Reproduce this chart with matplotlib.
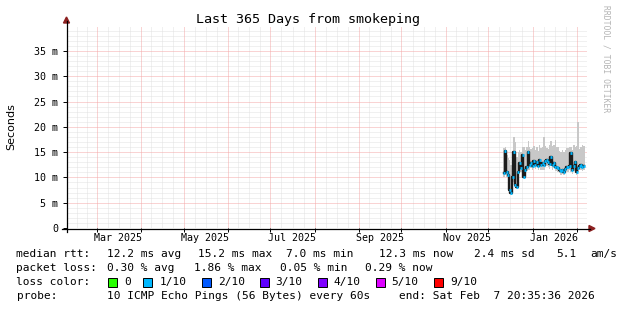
import matplotlib
matplotlib.use("Agg")
import matplotlib.pyplot as plt
from matplotlib.patches import Rectangle, Polygon
from matplotlib.lines import Line2D
from matplotlib.ticker import FuncFormatter
import pandas as pd
from datetime import datetime

# ---------------- data ----------------
title = "Last 365 Days from smokeping"
y_label = "Seconds"
first_day = "2025-12-12"
median_ms = [10.8, 15.2, 11.0, 10.5, 7.5, 7.0, 10.0, 15.0, 8.5, 8.2,
             11.0, 12.8, 11.9, 14.4, 10.1, 11.5, 12.0, 15.0, 12.4, 12.8,
             12.3, 13.3, 12.5, 13.0, 12.2, 13.5, 12.4, 12.8, 12.5, 13.2,
             13.4, 13.1, 12.6, 14.1, 12.4, 12.8, 12.0, 12.1, 11.9, 11.5,
             11.2, 11.4, 11.1, 11.6, 12.1, 12.0, 12.3, 14.9, 11.5, 12.2,
             13.0, 11.1, 11.8, 12.2, 12.4, 12.0, 12.3]
smoke_hi_ms = [15.8, 16.0, 14.5, 13.8, 13.5, 12.5, 14.0, 18.0, 17.0, 14.0,
               15.1, 15.5, 15.0, 16.1, 16.0, 15.5, 16.0, 17.1, 16.0, 15.6,
               15.8, 16.2, 15.5, 16.0, 15.3, 16.5, 15.8, 16.0, 18.0, 16.2,
               15.8, 15.6, 16.5, 17.1, 16.2, 16.5, 17.4, 16.1, 16.0, 15.2,
               15.1, 15.5, 15.0, 15.4, 15.8, 15.8, 16.0, 16.1, 15.5, 16.5,
               16.0, 16.2, 21.0, 15.6, 16.0, 16.4, 16.2]
smoke_lo_ms = [10.0, 10.5, 10.0, 9.5, 7.0, 6.8, 8.0, 9.0, 8.0, 7.8,
               10.2, 11.5, 11.0, 11.5, 9.8, 10.8, 11.2, 11.5, 11.5, 11.8,
               11.5, 12.0, 11.6, 12.0, 11.4, 12.2, 11.5, 11.5, 11.5, 12.0,
               12.2, 12.0, 11.7, 12.2, 11.5, 11.8, 11.2, 11.3, 11.0, 10.8,
               10.5, 10.6, 10.4, 10.8, 11.2, 11.1, 11.4, 11.0, 10.7, 11.3,
               11.5, 10.4, 11.0, 11.4, 11.5, 11.2, 11.5]
y_ticks = [0, 5, 10, 15, 20, 25, 30, 35]
month_labels = ["Mar 2025", "May 2025", "Jul 2025", "Sep 2025", "Nov 2025", "Jan 2026"]
month_label_dates = ["2025-03-16", "2025-05-16", "2025-07-16", "2025-09-16", "2025-11-16", "2026-01-16"]
stats_rtt = ["median rtt:", "12.2 ms avg", "15.2 ms max", "7.0 ms min",
             "12.3 ms now", "2.4 ms sd", "5.1", "am/s"]
stats_loss = ["packet loss:", "0.30 % avg", "1.86 % max", "0.05 % min", "0.29 % now"]
loss_labels = ["0", "1/10", "2/10", "3/10", "4/10", "5/10", "9/10"]
loss_colors = ["#26ff00", "#00b8ff", "#0059ff", "#5e00ff", "#7e00ff", "#dd00ff", "#ff0000"]
probe_items = ["probe:", "10 ICMP Echo Pings (56 Bytes) every 60s",
               "end: Sat Feb  7 20:35:36 2026"]
t_start = datetime(2025, 2, 7, 20, 35, 36)
t_end = datetime(2026, 2, 7, 20, 35, 36)

# ---------------- layout ----------------
W, H = 617, 310
MONO = "DejaVu Sans Mono"
fig = plt.figure(figsize=(W / 100, H / 100), dpi=100)
fig.patch.set_facecolor("white")


def fx(px):
    return px / W


def fy(py):
    return (H - py) / H


ax = fig.add_axes([fx(66.5), fy(228), fx(586.5) - fx(66.5), fy(25.6) - fy(228)])
ax.set_facecolor("white")
ax.set_xlim(t_start, t_end)
ax.set_ylim(0, 40)

days = pd.date_range(first_day, periods=len(median_ms), freq="D")

# grid
mstarts = pd.date_range("2025-02-01", "2026-03-01", freq="MS")
minor_x = []
for a, b in zip(mstarts[:-1], mstarts[1:]):
    for k in (1, 2, 3):
        minor_x.append(a + (b - a) * k / 4)
dot = (0, (1, 1))
for d in minor_x:
    ax.axvline(d, color="#e2e2e2", lw=0.72, ls=dot, zorder=0)
for v in range(0, 41):
    if v % 5:
        ax.axhline(v, color="#e2e2e2", lw=0.72, ls=dot, zorder=0)
for d in mstarts[1:-1]:
    ax.axvline(d, color="#f4a8a8", lw=0.72, ls=dot, zorder=0.5)
for v in y_ticks[1:]:
    ax.axhline(v, color="#f4a8a8", lw=0.72, ls=dot, zorder=0.5)

# smoke
hi = pd.Series(smoke_hi_ms)
lo = pd.Series(smoke_lo_ms)
ax.bar(days, hi - lo, bottom=lo, width=1.0, color="#c8c8c8", linewidth=0, zorder=2)
# median
ax.step(days, median_ms, where="mid", color="#1c1c1c", lw=1.7, zorder=3)
ax.plot(days, median_ms, ls="none", marker="_", ms=1.8, mew=2.0, color="#00b8ff", zorder=4)

# ticks
ax.set_yticks(y_ticks)
ax.yaxis.set_major_formatter(FuncFormatter(lambda v, p: "0" if v == 0 else f"{int(v)} m"))
ax.tick_params(axis="y", length=3, width=0.7, pad=3, labelsize=7.2, colors="black")
ax.set_xticks(list(mstarts[1:-1]))
ax.set_xticklabels([])
ax.tick_params(axis="x", length=3, width=0.7)
for lab in ax.get_yticklabels():
    lab.set_family(MONO)
for s in ax.spines.values():
    s.set_visible(False)
for lab, d in zip(month_labels, month_label_dates):
    ax.text(pd.Timestamp(d), -0.05, lab, transform=ax.get_xaxis_transform(),
            ha="center", va="center", fontsize=7.2, family=MONO, color="black")

# axis lines with arrows
fig.add_artist(Line2D([fx(66.5), fx(66.5)], [fy(232), fy(21)], color="black", lw=0.9))
fig.add_artist(Line2D([fx(62), fx(590)], [fy(228.5), fy(228.5)], color="black", lw=0.9))
fig.add_artist(Polygon([(fx(63.5), fy(23)), (fx(69.5), fy(23)), (fx(66.5), fy(17))],
                       closed=True, color="#8c2020", transform=fig.transFigure))
fig.add_artist(Polygon([(fx(589), fy(225.5)), (fx(589), fy(231.5)), (fx(595), fy(228.5))],
                       closed=True, color="#8c2020", transform=fig.transFigure))

# texts
fig.text(fx(308), fy(19), title, ha="center", va="center", fontsize=9.6, family=MONO)
fig.text(fx(11), fy(127), y_label, rotation=90, ha="center", va="center", fontsize=8)
fig.text(fx(606), fy(59), "RRDTOOL / TOBI OETIKER", rotation=-90, ha="center", va="center",
         fontsize=5.8, family=MONO, color="#b4b4b4")

LEG = 8.0
rtt_x = [16.5, 107, 198, 286, 379, 474, 556, 590]
for s, x in zip(stats_rtt, rtt_x):
    fig.text(fx(x), fy(254), s, ha="left", va="center", fontsize=LEG, family=MONO)
loss_x = [16.5, 107, 193.7, 280, 365]
for s, x in zip(stats_loss, loss_x):
    fig.text(fx(x), fy(268), s, ha="left", va="center", fontsize=LEG, family=MONO)
fig.text(fx(16.5), fy(282), "loss color:", ha="left", va="center", fontsize=LEG, family=MONO)
lc_text_x = [124, 159.4, 217.7, 275.6, 333.9, 391.7, 450]
for lab, col, x in zip(loss_labels, loss_colors, lc_text_x):
    fig.add_artist(Rectangle((fx(x - 16), fy(286.5)), fx(9), 9 / H, facecolor=col,
                             edgecolor="black", lw=0.7, transform=fig.transFigure))
    fig.text(fx(x), fy(282), lab, ha="left", va="center", fontsize=LEG, family=MONO)
probe_x = [16.5, 107, 398.8]
for s, x in zip(probe_items, probe_x):
    fig.text(fx(x), fy(296), s, ha="left", va="center", fontsize=LEG, family=MONO)

fig.savefig("out.png", dpi=100, facecolor="white")
